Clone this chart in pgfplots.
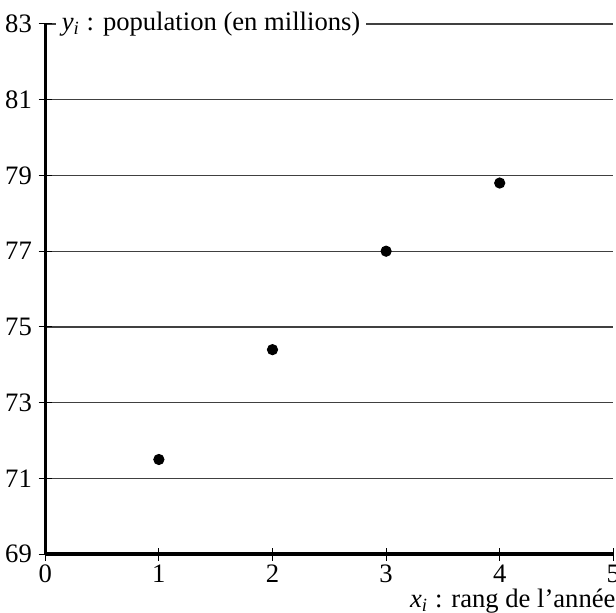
\documentclass[border=0pt]{standalone}
\usepackage{fontspec}
\setmainfont{Liberation Serif}
\usepackage{pgfplots}
\pgfplotsset{compat=1.18}
\begin{document}
\begin{tikzpicture}
\begin{axis}[
  name=ax,
  x=1.5cm, y=0.5cm,
  xmin=0, xmax=5, ymin=69, ymax=83,
  axis x line=bottom, axis y line=left,
  axis line style={-, line width=1.3pt},
  xtick={0,1,...,5}, ytick={69,71,...,83},
  /pgf/number format/assume math mode=true,
  xticklabel style={yshift=2pt},
  yticklabel style={xshift=1pt},
  tick align=center, major tick length=5pt,
  tick style={black, line width=0.4pt},
  ymajorgrids, grid style={black!75, line width=0.5pt},
  clip=false,
]
\addplot[only marks, mark=*, mark size=1.9pt, black] coordinates {
  (1,71.5) (2,74.4) (3,77) (4,78.8)
};
\node[anchor=west, fill=white, inner sep=2pt] at (axis cs:0,83) [xshift=4pt] {\textit{y\textsubscript{i}} : population (en millions)};
\node[anchor=north east, inner sep=0pt] at (axis cs:5,69) [yshift=-13pt, xshift=1pt] {\textit{x\textsubscript{i}} : rang de l'année};
\end{axis}
\pgfresetboundingbox
\path ([xshift=-17pt,yshift=-22pt]ax.south west) rectangle ([xshift=1pt,yshift=9pt]ax.north east);
\end{tikzpicture}
\end{document}
